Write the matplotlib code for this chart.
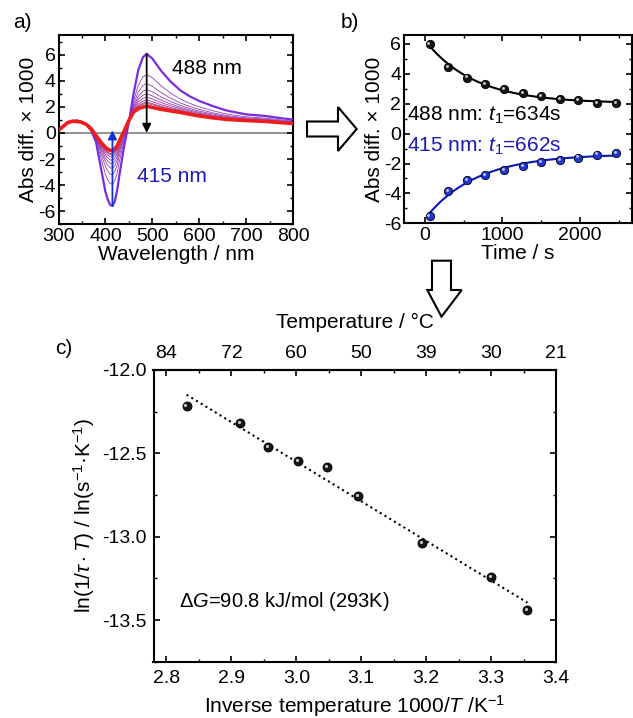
import numpy as np
import matplotlib
matplotlib.use('Agg')
import matplotlib.pyplot as plt
from matplotlib.ticker import MultipleLocator
from matplotlib.patches import Polygon
from matplotlib.colors import LinearSegmentedColormap
from matplotlib import transforms

plt.rcParams['font.family'] = ['Liberation Sans', 'DejaVu Sans']
plt.rcParams['mathtext.fontset'] = 'custom'
plt.rcParams['mathtext.rm'] = 'Liberation Sans'
plt.rcParams['mathtext.it'] = 'Liberation Sans:italic'
plt.rcParams['mathtext.bf'] = 'Liberation Sans:bold'
plt.rcParams['axes.unicode_minus'] = False
plt.rcParams['xtick.direction'] = 'in'
plt.rcParams['ytick.direction'] = 'in'
plt.rcParams['xtick.major.size'] = 4
plt.rcParams['ytick.major.size'] = 4
plt.rcParams['xtick.minor.size'] = 2
plt.rcParams['ytick.minor.size'] = 2
plt.rcParams['xtick.major.width'] = 1.2
plt.rcParams['ytick.major.width'] = 1.2
plt.rcParams['xtick.minor.width'] = 1.0
plt.rcParams['ytick.minor.width'] = 1.0
plt.rcParams['axes.linewidth'] = 1.5

# a) difference spectra: first and last scan
wavelength = [300, 310, 320, 330, 340, 350, 360, 370, 380, 390, 400, 405, 410, 415,
              420, 425, 430, 440, 450, 460, 470, 480, 488, 500, 520, 540, 560, 580,
              600, 630, 660, 700, 740, 770, 800]
spec_first = [0.2, 0.5, 0.75, 0.9, 0.95, 0.85, 0.6, 0.15, -0.7, -2.6, -4.5, -5.1, -5.5, -5.6,
              -5.25, -4.4, -3.2, -1.0, 0.8, 3.0, 4.8, 5.8, 6.05, 5.7, 4.7, 3.9, 3.25, 2.8,
              2.45, 2.04, 1.7, 1.42, 1.3, 1.15, 1.02]
spec_last = [0.2, 0.5, 0.8, 0.9, 0.88, 0.8, 0.64, 0.3, -0.2, -0.7, -1.1, -1.25, -1.33, -1.37,
             -1.22, -1.0, -0.6, 0.15, 0.95, 1.6, 1.85, 1.98, 2.05, 1.95, 1.8, 1.68, 1.57, 1.43,
             1.3, 1.15, 1.03, 0.95, 0.88, 0.8, 0.72]

# b) decay at the two probe wavelengths
time_s = [60, 300, 540, 780, 1020, 1260, 1500, 1740, 1980, 2220, 2460]
abs_488 = [6.0, 4.44, 3.75, 3.30, 2.97, 2.72, 2.50, 2.34, 2.25, 2.03, 2.03]
abs_415 = [-5.50, -3.83, -3.12, -2.76, -2.43, -2.16, -1.89, -1.76, -1.60, -1.40, -1.27]
tau_488 = 634
tau_415 = 662

# c) Eyring plot
inv_temp = [2.831, 2.913, 2.957, 3.002, 3.048, 3.095, 3.194, 3.300, 3.356]
ln_rate = [-12.216, -12.318, -12.462, -12.544, -12.584, -12.758, -13.038, -13.244, -13.44]
temp_ticks = [2.8, 2.9, 3.0, 3.1, 3.2, 3.3, 3.4]
temp_labels = ['84', '72', '60', '50', '39', '30', '21']

W, H = 633, 718
fig = plt.figure(figsize=(W / 100, H / 100), dpi=100)


def box(l, r, t, b):
    # pixel box -> figure fraction
    return [l / W, 1 - b / H, (r - l) / W, (b - t) / H]


def balls(ax, x, y, face, shine, ms):
    ax.plot(x, y, 'o', ms=ms, mfc=face, mec='black', mew=0.6, zorder=4)
    hl = transforms.offset_copy(ax.transData, fig=fig, x=-0.8, y=0.8, units='points')
    ax.plot(x, y, 'o', ms=ms * 0.35, mfc=shine, mec='none', transform=hl, zorder=5)


blue = '#1a1ab8'

# ---------- a) ----------
ax1 = fig.add_axes(box(58.5, 293, 35, 224.3))
wl = np.array(wavelength)
first = np.array(spec_first)
last = np.array(spec_last)
a488 = np.array(abs_488)
frac = (a488 - a488[-1]) / (a488[0] - a488[-1])
cmap = LinearSegmentedColormap.from_list('mid', ['#8a44c8', '#a8306e'])
ax1.axhline(0, color='#808080', lw=1.2, zorder=1)
for i in range(1, len(frac) - 1):
    ax1.plot(wl, last + frac[i] * (first - last), color=cmap(i / (len(frac) - 1)), lw=0.6, zorder=2)
ax1.plot(wl, first, color='#7a2be0', lw=1.6, zorder=3)
ax1.plot(wl, last, color='#ee1c1c', lw=2.6, zorder=3)
ax1.annotate('', xy=(488, 0), xytext=(488, first[wl == 488][0]),
             arrowprops=dict(arrowstyle='-|>', color='black', lw=1.3, mutation_scale=13,
                             shrinkA=0, shrinkB=0), zorder=6)
ax1.annotate('', xy=(415, 0.2), xytext=(415, first[wl == 415][0]),
             arrowprops=dict(arrowstyle='-|>', color='#1030d8', lw=1.3, mutation_scale=13,
                             shrinkA=0, shrinkB=0), zorder=6)
ax1.text(543, 4.97, '488 nm', fontsize=15, va='center', ha='left')
ax1.text(468, -3.32, '415 nm', fontsize=15, va='center', ha='left', color=blue)
ax1.set_xlim(300, 800)
ax1.set_ylim(-7, 7.5)
ax1.set_xticks(range(300, 801, 100))
ax1.set_yticks(range(-6, 7, 2))
ax1.xaxis.set_minor_locator(MultipleLocator(50))
ax1.yaxis.set_minor_locator(MultipleLocator(1))
ax1.tick_params(which='both', top=True, right=True, labelsize=14)
ax1.tick_params(axis='x', pad=3)
ax1.tick_params(axis='y', pad=2)
ax1.set_xlabel('Wavelength / nm', fontsize=15, labelpad=0)
ax1.set_ylabel('Abs diff. × 1000', fontsize=15, labelpad=0)

# ---------- b) ----------
ax2 = fig.add_axes(box(404, 632, 35, 223.3))
t = np.array(time_s, dtype=float)
tt = np.linspace(t[0], t[-1], 200)
for vals, tau, col, face, shine in [(abs_488, tau_488, 'black', '#151515', '#c8c8c8'),
                                    (abs_415, tau_415, '#0a18b8', '#2236d8', '#b8c4ff')]:
    M = np.column_stack([np.exp(-t / tau), np.ones_like(t)])
    amp, off = np.linalg.lstsq(M, np.array(vals), rcond=None)[0]
    ax2.plot(tt, amp * np.exp(-tt / tau) + off, color=col, lw=1.5, zorder=3)
    balls(ax2, t, vals, face, shine, 6)
ax2.text(-235, 1.25, '488 nm: $t_{\\mathit{1}}$=%ds' % tau_488, fontsize=15, va='center')
ax2.text(-235, -0.87, '415 nm: $t_{\\mathit{1}}$=%ds' % tau_415, fontsize=15, va='center', color=blue)
ax2.set_xlim(-270, 2670)
ax2.set_ylim(-6, 6.6)
ax2.set_xticks([0, 1000, 2000])
ax2.set_yticks(range(-6, 7, 2))
ax2.xaxis.set_minor_locator(MultipleLocator(500))
ax2.yaxis.set_minor_locator(MultipleLocator(1))
ax2.tick_params(which='both', top=True, right=True, labelsize=14)
ax2.tick_params(axis='x', pad=3)
ax2.tick_params(axis='y', pad=2)
ax2.set_xlabel('Time / s', fontsize=15, labelpad=0)
ax2.set_ylabel('Abs diff. × 1000', fontsize=15, labelpad=0)

# ---------- c) ----------
ax3 = fig.add_axes(box(153.5, 556, 370, 661.7))
xi = np.array(inv_temp)
slope, icpt = np.polyfit(xi, np.array(ln_rate), 1)
ax3.plot(xi[[0, -1]], slope * xi[[0, -1]] + icpt, ':', color='black', lw=1.5, zorder=2)
balls(ax3, xi, ln_rate, '#151515', '#c8c8c8', 6.5)
ax3.text(2.82, -13.39, '$\\Delta G$=90.8 kJ/mol (293K)', fontsize=14.5, va='center')
ax3.set_xlim(2.78, 3.4)
ax3.set_ylim(-13.75, -12.0)
ax3.set_xticks(temp_ticks)
ax3.set_yticks([-12.0, -12.5, -13.0, -13.5])
ax3.xaxis.set_minor_locator(MultipleLocator(0.05))
ax3.yaxis.set_minor_locator(MultipleLocator(0.25))
ax3.tick_params(which='both', right=True, labelsize=14)
ax3.tick_params(axis='x', pad=6)
ax3.tick_params(axis='y', pad=5)
ax3.set_xlabel('Inverse temperature 1000/$T$ /K$^{-1}$', fontsize=15)
ax3.xaxis.set_label_coords(0.5, -0.108)
ax3.set_ylabel('ln(1/$\\tau\\cdot T$) / ln(s$^{-1}$·K$^{-1}$)', fontsize=15)
ax3.yaxis.set_label_coords(-0.14, 0.5)
top = ax3.secondary_xaxis('top')
top.set_xticks(temp_ticks, labels=temp_labels)
top.xaxis.set_minor_locator(MultipleLocator(0.05))
top.tick_params(which='both', direction='in', labelsize=14, pad=6)
fig.text(354.7 / W, 1 - 322 / H, 'Temperature / °C', fontsize=15, ha='center', va='center')

# panel letters and hollow arrows
fig.text(22 / W, 1 - 22 / H, 'a)', fontsize=15, ha='center', va='center')
fig.text(350 / W, 1 - 22 / H, 'b)', fontsize=15, ha='center', va='center')
fig.text(64 / W, 1 - 348 / H, 'c)', fontsize=15, ha='center', va='center')

ov = fig.add_axes([0, 0, 1, 1], zorder=10)
ov.set_xlim(0, W)
ov.set_ylim(H, 0)
ov.axis('off')
right_arrow = [(307, 121.5), (338, 121.5), (338, 107), (356.7, 129), (338, 151),
               (338, 136.5), (307, 136.5)]
down_arrow = [(432, 260.7), (451, 260.7), (451, 290), (461.7, 290), (441.5, 316.7),
              (427.3, 290), (432, 290)]
for pts in (right_arrow, down_arrow):
    ov.add_patch(Polygon(pts, closed=True, facecolor='white', edgecolor='black', lw=1.5))

fig.savefig('out.png', dpi=100)
